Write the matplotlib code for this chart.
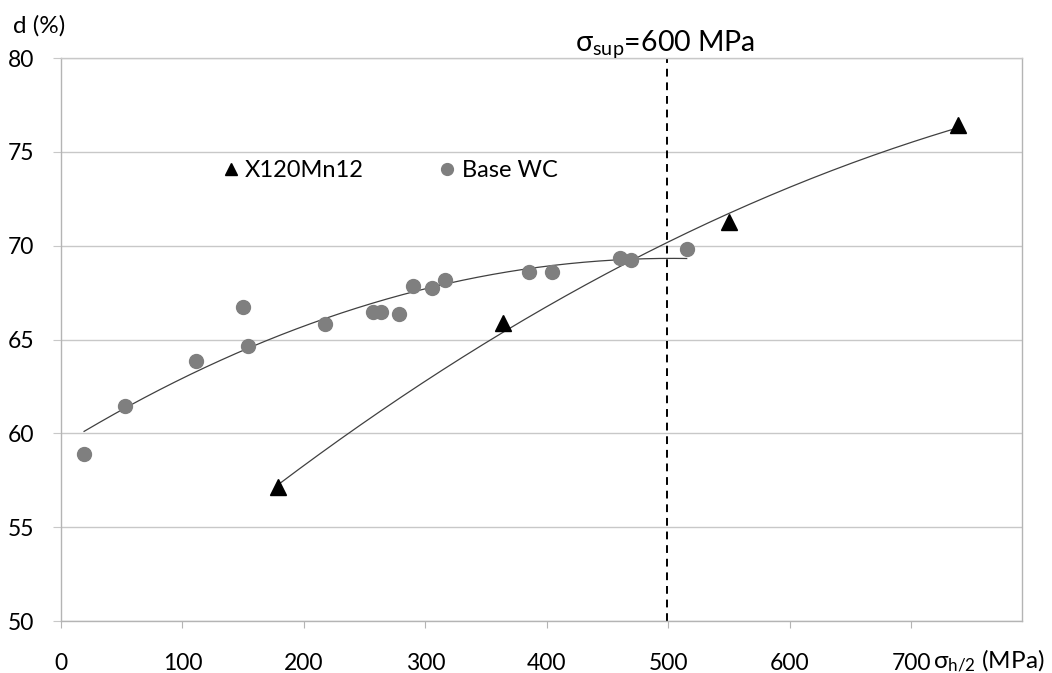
import numpy as np
import matplotlib
matplotlib.use('Agg')
import matplotlib.pyplot as plt

# ---------------- data ----------------
wc_x = [19, 53, 111, 150, 154, 217, 257, 263, 278, 290, 305, 316, 385, 404, 460, 469, 515]
wc_y = [58.9, 61.45, 63.85, 66.72, 64.65, 65.8, 66.44, 66.44, 66.35, 67.86, 67.76, 68.17,
        68.61, 68.61, 69.32, 69.23, 69.82]

mn_x = [179, 364, 550, 738]
mn_y = [57.12, 65.86, 71.26, 76.43]

sigma_sup = 499
x_ticks = [0, 100, 200, 300, 400, 500, 600, 700]
y_ticks = [50, 55, 60, 65, 70, 75, 80]

# ---------------- style ----------------
plt.rcParams['font.family'] = ['Lato', 'DejaVu Sans']
plt.rcParams['mathtext.fontset'] = 'custom'
plt.rcParams['mathtext.rm'] = 'Lato'
plt.rcParams['mathtext.it'] = 'Lato:italic'
plt.rcParams['mathtext.bf'] = 'Lato:bold'

fig = plt.figure(figsize=(10.52, 6.73), dpi=100)
ax = fig.add_axes([61 / 1052, 52 / 673, 961 / 1052, 563 / 673])

grid_c = '#c8c8c8'
ax.set_xlim(0, 791)
ax.set_ylim(50, 80)
ax.set_xticks(x_ticks)
ax.set_yticks(y_ticks)
ax.yaxis.grid(True, color=grid_c, lw=1.0)
ax.set_axisbelow(True)
for s in ax.spines.values():
    s.set_color('#b4b4b4')
    s.set_linewidth(1.0)
ax.spines['top'].set_color(grid_c)
ax.tick_params(axis='x', length=5, color='#b4b4b4', labelsize=16.5, pad=18)
ax.tick_params(axis='y', length=6, color=grid_c, labelsize=16.5, pad=13)

# trend lines (2nd order polynomial, like the spreadsheet trendline)
c_wc = np.polyfit(wc_x, wc_y, 2)
xs = np.linspace(min(wc_x), max(wc_x), 200)
ax.plot(xs, np.polyval(c_wc, xs), color='#404040', lw=0.9, zorder=2)

c_mn = np.polyfit(mn_x, mn_y, 2)
xs = np.linspace(min(mn_x), max(mn_x), 200)
ax.plot(xs, np.polyval(c_mn, xs), color='#404040', lw=0.9, zorder=2)

# points
ax.plot(mn_x, mn_y, ls='none', marker='^', ms=11, color='black', mec='black',
        label='X120Mn12', zorder=3)
ax.plot(wc_x, wc_y, ls='none', marker='o', ms=10, color='#7f7f7f', mec='#7f7f7f',
        label='Base WC', zorder=3)

# limit line
ax.axvline(sigma_sup, color='black', lw=1.4, ls=(0, (4, 3)), zorder=2)
ax.text(sigma_sup - 2, 80.4, 'σ$_{\\mathrm{sup}}$=600 MPa', ha='center', va='baseline',
        fontsize=20.5)

leg = ax.legend(loc='center left', bbox_to_anchor=(0.158, 0.80), ncol=2, frameon=False,
                fontsize=17, handlelength=0.5, handletextpad=0.35, columnspacing=3.3,
                markerscale=0.85, numpoints=1, borderpad=0)

# axis titles
fig.text(13 / 1052, 1 - 33 / 673, 'd (%)', fontsize=17.5, ha='left', va='baseline')
fig.text(933 / 1052, 5 / 673, 'σ$_{\\mathrm{h/2}}$ (MPa)', fontsize=17.5, ha='left',
         va='baseline')

fig.savefig('out.png', dpi=100)
